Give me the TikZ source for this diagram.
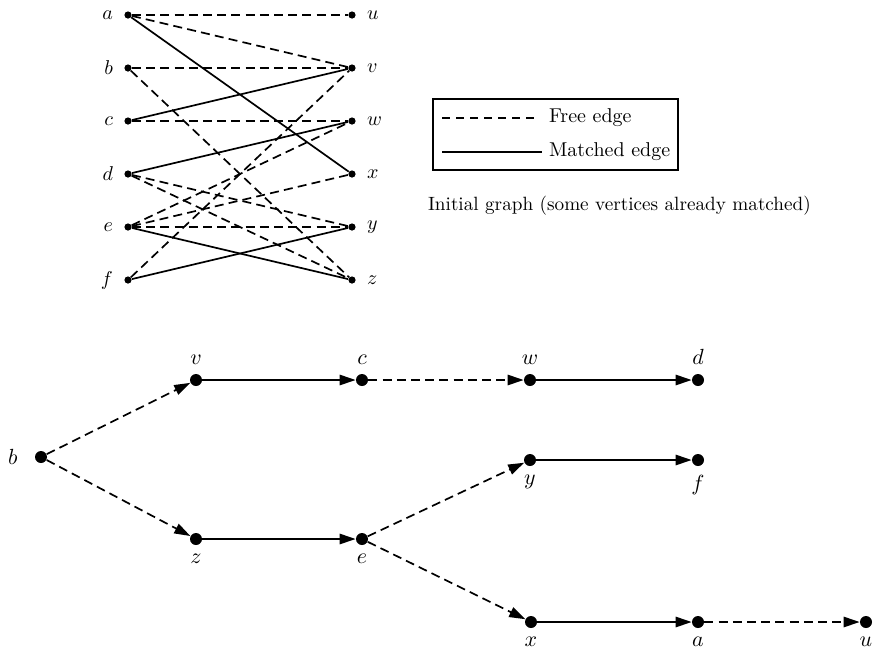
\documentclass[tikz,border=0pt]{standalone}
\usetikzlibrary{arrows.meta}

\begin{document}
\begin{tikzpicture}[x=0.5pt,y=-0.5pt,
   dot/.style={circle,fill,inner sep=0pt,minimum size=3.6pt},
   bigdot/.style={circle,fill,inner sep=0pt,minimum size=6pt},
   free/.style={line width=0.85pt,dash pattern=on 4.5pt off 2.6pt},
   matched/.style={line width=0.85pt},
   arr/.style={-{Triangle[length=8pt,width=5.2pt]}},
   every label/.append style={font=\fontsize{10.5}{12}\selectfont}]
\useasboundingbox (0,0) rectangle (874,654);

% bipartite graph, left and right sides
\foreach \l/\r [count=\i from 0] in {a/u,b/v,c/w,d/x,e/y,f/z}{
  \node[dot,label={[label distance=2pt,font=\normalsize]left:$\l$}] (\l) at (128,{15+53*\i}) {};
  \node[dot,label={[label distance=2pt,font=\normalsize]right:$\r$}] (\r) at (352,{15+53*\i}) {};
}
\foreach \s/\t in {a/u,a/v,b/v,b/z,c/w,d/y,d/z,e/w,e/x,e/y,f/v}
  \draw[free] (\s) -- (\t);
\foreach \s/\t in {a/x,c/v,d/w,e/z,f/y}
  \draw[matched] (\s) -- (\t);

% legend
\draw[line width=0.7pt] (433,99) rectangle (678,170);
\node[anchor=west] (freetxt) at (542,118) {Free edge};
\node[anchor=west] (mtxt) at (542,152) {Matched edge};
\coordinate (fs) at (442,118);
\coordinate (ms) at (442,152);
\draw[free,dash pattern=on 4pt off 3pt] (fs) -- ([xshift=-2pt]freetxt.west);
\draw[matched] (ms) -- (mtxt.west);
\node[anchor=west,font=\fontsize{9.6}{12}\selectfont] (cap) at (421,206) {Initial graph (some vertices already matched)};

% alternating tree rooted at b
\node[bigdot,label={[label distance=5pt]left:$b$}] (tb) at (41,457) {};
\node[bigdot,label={[label distance=1pt]above:$v$}] (tv) at (196,380) {};
\node[bigdot,label={[label distance=1pt]above:$c$}] (tc) at (362,380) {};
\node[bigdot,label={[label distance=1pt]above:$w$}] (tw) at (530,380) {};
\node[bigdot,label={[label distance=1pt]above:$d$}] (td) at (698,380) {};
\node[bigdot,label={[label distance=1pt]below:$z$}] (tz) at (196,539) {};
\node[bigdot,label={[label distance=1pt]below:$e$}] (te) at (362,539) {};
\node[bigdot,label={[label distance=1pt]below:$y$}] (ty) at (530,460) {};
\node[bigdot,label={[label distance=1pt]below:$f$}] (tf) at (698,460) {};
\node[bigdot,label={[label distance=1pt]below:$x$}] (tx) at (531,622) {};
\node[bigdot,label={[label distance=1pt]below:$a$}] (ta) at (698,622) {};
\node[bigdot,label={[label distance=1pt]below:$u$}] (tu) at (866,622) {};

\foreach \s/\t in {tb/tv,tc/tw,tb/tz,te/ty,te/tx,ta/tu}
  \draw[free,arr] (\s) -- (\t);
\foreach \s/\t in {tv/tc,tw/td,tz/te,ty/tf,tx/ta}
  \draw[matched,arr] (\s) -- (\t);
\end{tikzpicture}
\end{document}
